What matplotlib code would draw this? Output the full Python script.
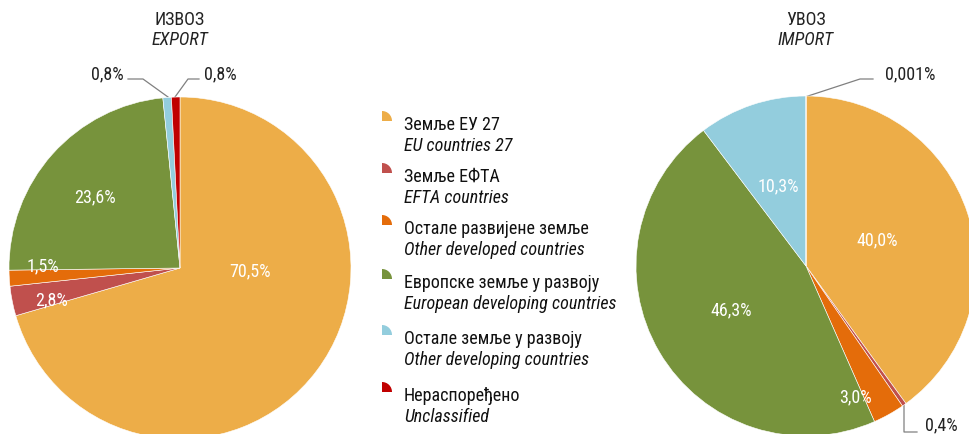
import matplotlib
matplotlib.use("Agg")
import matplotlib.pyplot as plt
from matplotlib.patches import Wedge

plt.rcParams['font.family'] = ['Liberation Sans Narrow', 'Roboto Condensed', 'Liberation Sans', 'DejaVu Sans']

# ---- data ----
categories_sr = ["Земље ЕУ 27", "Земље ЕФТА", "Остале развијене земље",
                 "Европске земље у развоју", "Остале земље у развоју", "Нераспоређено"]
categories_en = ["EU countries 27", "EFTA countries", "Other developed countries",
                 "European developing countries", "Other developing countries", "Unclassified"]
export_values = [70.5, 2.8, 1.5, 23.6, 0.8, 0.8]
import_values = [40.0, 0.4, 3.0, 46.3, 10.3, 0.001]
export_labels = ["70,5%", "2,8%", "1,5%", "23,6%", "0,8%", "0,8%"]
import_labels = ["40,0%", "0,4%", "3,0%", "46,3%", "10,3%", "0,001%"]
colors = ["#EDAD48", "#C0504D", "#E46C0A", "#77933C", "#93CDDD", "#C00000"]

W, H = 969, 434
fig = plt.figure(figsize=(W / 100, H / 100), dpi=100)

# overlay axes in pixel coordinates
ov = fig.add_axes([0, 0, 1, 1])
ov.set_xlim(0, W)
ov.set_ylim(H, 0)
ov.axis('off')


def pie_axes(cx, cy, r):
    ax = fig.add_axes([(cx - r) / W, (H - cy - r) / H, 2 * r / W, 2 * r / H])
    return ax


def finish(ax):
    ax.set_xlim(-1, 1)
    ax.set_ylim(-1, 1)
    ax.axis('off')


FS = 13
lab_color = "#222222"

# ---------- export pie ----------
axE = pie_axes(180, 268, 171)
axE.pie(export_values, colors=colors, startangle=90, counterclock=False, radius=1,
        wedgeprops=dict(edgecolor='white', linewidth=0.4))
finish(axE)
inside_E = {0: (0.41, -0.02), 1: (-0.75, -0.19), 2: (-0.80, 0.01), 3: (-0.50, 0.415)}
for i, (x, y) in inside_E.items():
    axE.text(x, y, export_labels[i], color='white', fontsize=FS, ha='center', va='center')

# outside labels export
ov.plot([168, 143, 128], [97, 79, 79], color='#808080', lw=0.9)
ov.text(107, 74, export_labels[4], fontsize=FS, ha='center', va='center', color=lab_color)
ov.plot([175, 188, 199], [97, 79, 79], color='#808080', lw=0.9)
ov.text(220, 74, export_labels[5], fontsize=FS, ha='center', va='center', color=lab_color)

ov.text(180, 20, "ИЗВОЗ", fontsize=FS, ha='center', va='center', color=lab_color)
ov.text(180, 40, "EXPORT", fontsize=FS, ha='center', va='center', style='italic', color=lab_color)

# ---------- import pie ----------
axI = pie_axes(806, 266, 170)
axI.pie(import_values, colors=colors, startangle=90, counterclock=False, radius=1,
        wedgeprops=dict(edgecolor='white', linewidth=0.4))
finish(axI)
inside_I = {0: (0.42, 0.15), 2: (0.29, -0.77), 3: (-0.44, -0.26), 4: (-0.165, 0.47)}
for i, (x, y) in inside_I.items():
    axI.text(x, y, import_labels[i], color='white', fontsize=FS, ha='center', va='center')

ov.plot([805, 860, 873], [97, 79, 79], color='#808080', lw=0.9)
ov.text(910, 74, import_labels[5], fontsize=FS, ha='center', va='center', color=lab_color)
ov.plot([902, 904, 904, 917], [397, 405, 432, 432], color='#808080', lw=0.9)
ov.text(941, 425, import_labels[1], fontsize=FS, ha='center', va='center', color=lab_color)

ov.text(806, 20, "УВОЗ", fontsize=FS, ha='center', va='center', color=lab_color)
ov.text(806, 40, "IMPORT", fontsize=FS, ha='center', va='center', style='italic', color=lab_color)

# ---------- legend ----------
rows_y = [125, 177, 229, 283, 339, 396]
for i, y in enumerate(rows_y):
    ov.add_patch(Wedge((382, y - 4), 10, 270, 360, facecolor=colors[i], edgecolor='none'))
    ov.text(404, y, categories_sr[i], fontsize=FS, ha='left', va='center', color='#111111')
    ov.text(404, y + 21, categories_en[i], fontsize=FS, ha='left', va='center',
            style='italic', color='#111111')

fig.savefig("out.png", dpi=100)
